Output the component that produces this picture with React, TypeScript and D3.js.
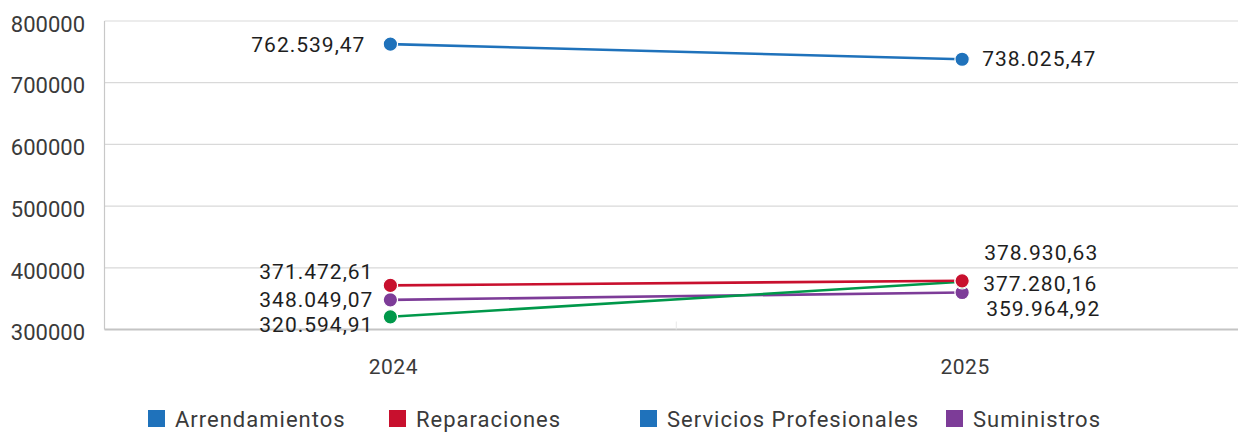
import React from "react";
import * as d3 from "d3";

const years = ["2024", "2025"];
const yTicks = [300000, 400000, 500000, 600000, 700000, 800000];

const arrendamientos = [762539.47, 738025.47];
const reparaciones = [371472.61, 378930.63];
const serviciosProfesionales = [320594.91, 377280.16];
const suministros = [348049.07, 359964.92];

const seriesNames = ["Arrendamientos", "Reparaciones", "Servicios Profesionales", "Suministros"];

// styling / layout (not data)
const lineColors: Record<string, string> = {
  Arrendamientos: "#1f72bb",
  Reparaciones: "#c8102e",
  "Servicios Profesionales": "#00984a",
  Suministros: "#7d3c98",
};
const legendColors: Record<string, string> = {
  Arrendamientos: "#1f72bb",
  Reparaciones: "#c8102e",
  "Servicios Profesionales": "#1f72bb",
  Suministros: "#7d3c98",
};
const legendX = [148, 389, 640, 946];
// label offsets [dx, dy] per series per year
const labelOffsets: Record<string, [number, number][]> = {
  Arrendamientos: [[-25, 0], [20, -1]],
  Reparaciones: [[-17, -14], [22, -28]],
  "Servicios Profesionales": [[-17, 8], [21, 1.5]],
  Suministros: [[-17, 0], [24, 16]],
};
const drawOrder = ["Arrendamientos", "Suministros", "Servicios Profesionales", "Reparaciones"];

const W = 1238;
const H = 432;
const FONT = "Roboto, 'DejaVu Sans', sans-serif";

const fmt = (v: number) => {
  const [i, d] = v.toFixed(2).split(".");
  return i.replace(/\B(?=(\d{3})+(?!\d))/g, ".") + "," + d;
};

export default function App() {
  const dataMap: Record<string, number[]> = {
    Arrendamientos: arrendamientos,
    Reparaciones: reparaciones,
    "Servicios Profesionales": serviciosProfesionales,
    Suministros: suministros,
  };
  const left = 104.5;
  const x = d3.scaleBand<string>().domain(years).range([left, 1248]).padding(0);
  const y = d3.scaleLinear().domain([300000, 800000]).range([329.5, 21]);
  const cx = (yr: string) => (x(yr) as number) + x.bandwidth() / 2;
  const line = d3
    .line<number>()
    .x((_, i) => cx(years[i]))
    .y((v) => y(v));

  return (
    <svg
      width={W}
      height={H}
      style={{ position: "absolute", left: 0, top: 0, display: "block", background: "#fff" }}
      fontFamily={FONT}
    >
      {/* gridlines */}
      {yTicks.map((t) =>
        t === 300000 ? null : (
          <line key={t} x1={left} x2={W} y1={y(t)} y2={y(t)} stroke="#d9d9d9" strokeWidth={1.2} />
        )
      )}
      {/* left axis */}
      <line x1={left} x2={left} y1={y(800000)} y2={y(300000)} stroke="#c8c8c8" strokeWidth={1.2} />
      {/* base axis */}
      <line x1={left} x2={W} y1={y(300000)} y2={y(300000)} stroke="#c4c4c4" strokeWidth={1.8} />
      {/* category separator tick */}
      {years.slice(1).map((yr) => (
        <line key={yr} x1={x(yr) as number} x2={x(yr) as number} y1={y(300000) - 8} y2={y(300000)} stroke="#e8e8e8" strokeWidth={1} />
      ))}
      {/* y tick labels */}
      {yTicks.map((t) => (
        <text key={t} x={85} y={y(t) + 3} dy="0.35em" textAnchor="end" fontSize={22} fill="#3a3a3a">
          {t}
        </text>
      ))}
      {/* x labels */}
      {years.map((yr) => (
        <text key={yr} x={cx(yr) + 3} y={367} dy="0.35em" textAnchor="middle" fontSize={21} letterSpacing={0.5} fill="#3a3a3a">
          {yr}
        </text>
      ))}
      {/* lines */}
      {drawOrder.map((s) => (
        <path key={s} d={line(dataMap[s]) || ""} fill="none" stroke={lineColors[s]} strokeWidth={2.6} />
      ))}
      {/* points */}
      {drawOrder.map((s) =>
        dataMap[s].map((v, i) => (
          <circle key={s + i} cx={cx(years[i])} cy={y(v)} r={7.2} fill={lineColors[s]} stroke="#fff" strokeWidth={1.2} />
        ))
      )}
      {/* data labels */}
      {seriesNames.map((s) =>
        dataMap[s].map((v, i) => {
          const [dx, dy] = labelOffsets[s][i];
          return (
            <text
              key={s + "l" + i}
              x={cx(years[i]) + dx}
              y={y(v) + dy}
              dy="0.36em"
              textAnchor={i === 0 ? "end" : "start"}
              fontSize={21}
              letterSpacing={1}
              fill="#1e1e1e"
            >
              {fmt(v)}
            </text>
          );
        })
      )}
      {/* legend */}
      {seriesNames.map((s, i) => (
        <g key={s} transform={`translate(${legendX[i]},0)`}>
          <rect x={0} y={410} width={17} height={17} fill={legendColors[s]} />
          <text x={27} y={419} dy="0.36em" fontSize={22} letterSpacing={1} fill="#3a3a3a">
            {s}
          </text>
        </g>
      ))}
    </svg>
  );
}
